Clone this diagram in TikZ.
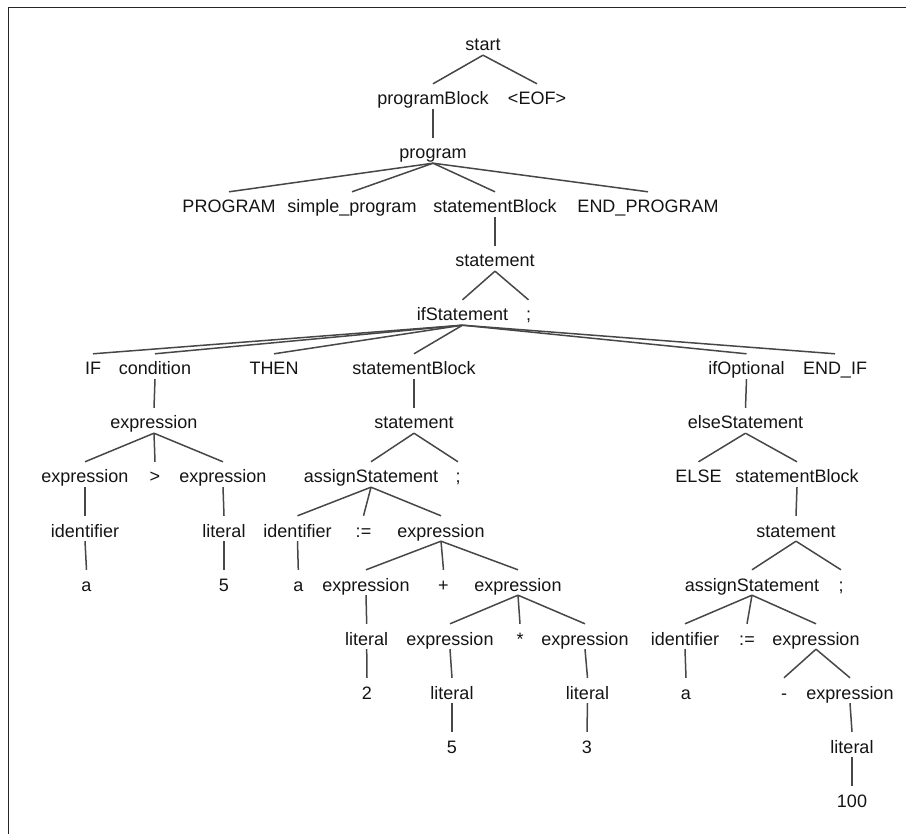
\documentclass[tikz,border=0pt]{standalone}
\usepackage{fontspec}
\setmainfont{Liberation Sans}
\begin{document}
\begin{tikzpicture}[x=1pt,y=-1pt,
  tn/.style={anchor=base,inner sep=0pt,text height=21pt,text depth=4pt,
    font=\fontsize{18}{20}\selectfont,text=black!92},
  edge/.style={draw=black!72,line width=1.5pt}]
\useasboundingbox (0,0) rectangle (906,834);
\draw[black!85,line width=1.4pt] (8.5,834) -- (8.5,7.5) -- (906,7.5);
% row 0
\node[tn] (start) at (483,51) {start};
% row 1
\node[tn] (pb) at (433,105) {programBlock};
\node[tn] (eof) at (537,105) {<EOF>};
% row 2
\node[tn] (prog) at (433,159) {program};
% row 3
\node[tn] (PROG) at (229,213) {PROGRAM};
\node[tn] (simple) at (352,213) {simple\_program};
\node[tn] (sb1) at (495,213) {statementBlock};
\node[tn] (endp) at (648,213) {END\_PROGRAM};
% row 4
\node[tn] (st1) at (495,267) {statement};
% row 5
\node[tn] (ifs) at (462.5,321) {ifStatement};
\node[tn] (semi1) at (528.5,321) {;};
% row 6
\node[tn] (IF) at (93,375) {IF};
\node[tn] (cond) at (155,375) {condition};
\node[tn] (THEN) at (274,375) {THEN};
\node[tn] (sb2) at (414,375) {statementBlock};
\node[tn] (ifopt) at (746.5,375) {ifOptional};
\node[tn] (endif) at (835,375) {END\_IF};
% row 7
\node[tn] (ex1) at (154,429) {expression};
\node[tn] (st2) at (414,429) {statement};
\node[tn] (elsest) at (745.5,429) {elseStatement};
% row 8
\node[tn] (ex2) at (85,483) {expression};
\node[tn] (gt) at (155,483) {>};
\node[tn] (ex3) at (223,483) {expression};
\node[tn] (as1) at (371,483) {assignStatement};
\node[tn] (semi2) at (458,483) {;};
\node[tn] (ELSE) at (698.5,483) {ELSE};
\node[tn] (sb3) at (797,483) {statementBlock};
% row 9
\node[tn] (id1) at (85,537) {identifier};
\node[tn] (lit1) at (224,537) {literal};
\node[tn] (id2) at (297.5,537) {identifier};
\node[tn] (asg1) at (363.5,537) {:=};
\node[tn] (ex4) at (441,537) {expression};
\node[tn] (st3) at (796,537) {statement};
% row 10
\node[tn] (a1) at (86.5,591) {a};
\node[tn] (five1) at (224,591) {5};
\node[tn] (a2) at (298.3,591) {a};
\node[tn] (ex5) at (366,591) {expression};
\node[tn] (plus) at (443.5,591) {+};
\node[tn] (ex6) at (518,591) {expression};
\node[tn] (as2) at (752,591) {assignStatement};
\node[tn] (semi3) at (841,591) {;};
% row 11
\node[tn] (lit2) at (366.7,645) {literal};
\node[tn] (ex7) at (450,645) {expression};
\node[tn] (times) at (520,645) {*};
\node[tn] (ex8) at (585,645) {expression};
\node[tn] (id3) at (685,645) {identifier};
\node[tn] (asg2) at (747,645) {:=};
\node[tn] (ex9) at (816,645) {expression};
% row 12
\node[tn] (two) at (367,699) {2};
\node[tn] (lit3) at (452,699) {literal};
\node[tn] (lit4) at (587.5,699) {literal};
\node[tn] (a3) at (686,699) {a};
\node[tn] (minus) at (784,699) {-};
\node[tn] (ex10) at (850,699) {expression};
% row 13
\node[tn] (five2) at (452,753) {5};
\node[tn] (three) at (587,753) {3};
\node[tn] (lit5) at (852,753) {literal};
% row 14
\node[tn] (hundred) at (852,807) {100};
% edges
\foreach \p/\c in {start/pb,start/eof,pb/prog,prog/PROG,prog/simple,prog/sb1,prog/endp,
  sb1/st1,st1/ifs,st1/semi1,ifs/IF,ifs/cond,ifs/THEN,ifs/sb2,ifs/ifopt,ifs/endif,
  cond/ex1,ex1/ex2,ex1/gt,ex1/ex3,ex2/id1,id1/a1,ex3/lit1,lit1/five1,
  sb2/st2,st2/as1,st2/semi2,as1/id2,as1/asg1,as1/ex4,id2/a2,
  ex4/ex5,ex4/plus,ex4/ex6,ex5/lit2,lit2/two,ex6/ex7,ex6/times,ex6/ex8,
  ex7/lit3,lit3/five2,ex8/lit4,lit4/three,
  ifopt/elsest,elsest/ELSE,elsest/sb3,sb3/st3,st3/as2,st3/semi3,
  as2/id3,as2/asg2,as2/ex9,id3/a3,ex9/minus,ex9/ex10,ex10/lit5,lit5/hundred}
  \draw[edge] (\p.south) -- (\c.north);
\end{tikzpicture}
\end{document}
